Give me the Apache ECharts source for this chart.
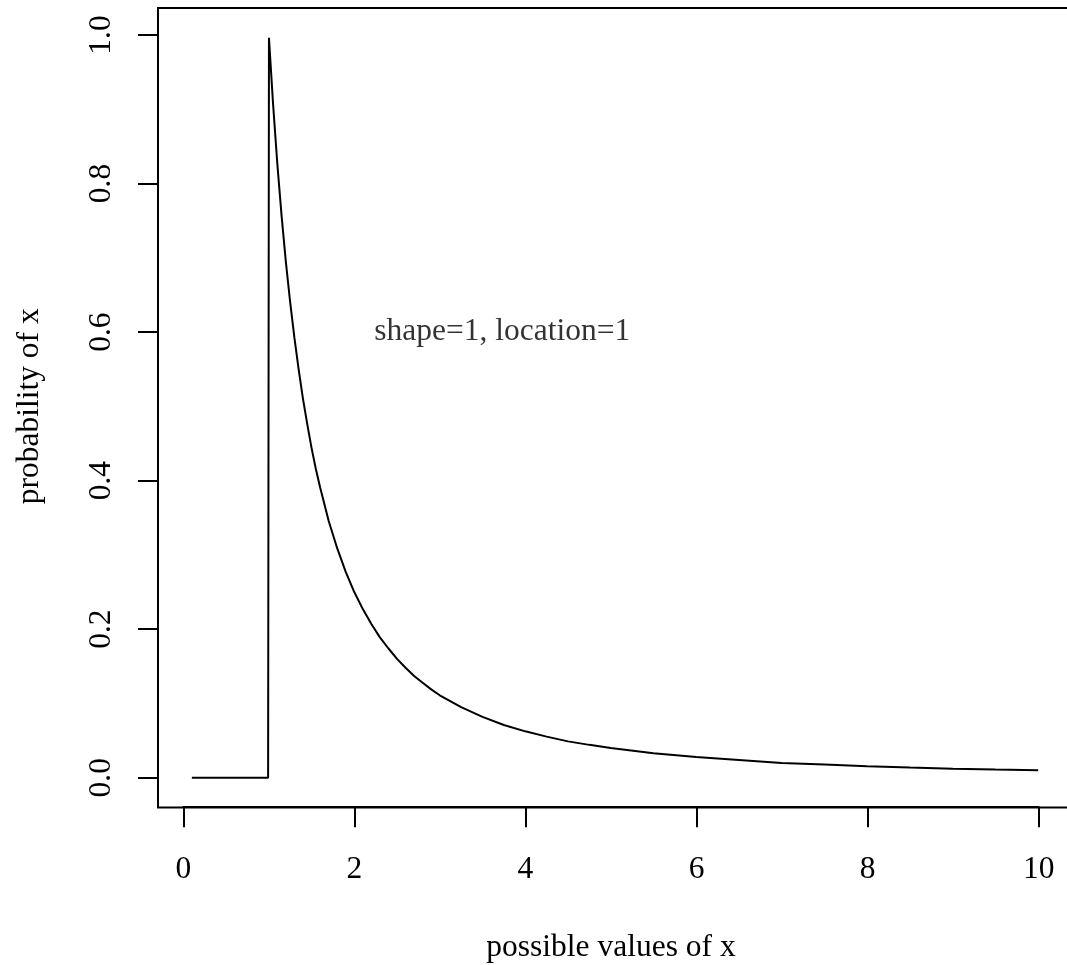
<!DOCTYPE html>
<html>
<head>
<meta charset="utf-8">
<script src="https://cdn.jsdelivr.net/npm/echarts@6/dist/echarts.min.js"></script>
<style>
  html, body { margin: 0; padding: 0; background: #fff; }
  #chart { width: 1067px; height: 965px; }
</style>
</head>
<body>
<div id="chart"></div>
<script>
// 曲线上读出的点 (x, 概率)
var xValues = [0.1, 0.992, 1.002, 1.05, 1.1, 1.15, 1.2, 1.25, 1.3, 1.35, 1.4, 1.45, 1.5, 1.55, 1.6, 1.7, 1.8, 1.9, 2.0,
  2.1, 2.2, 2.3, 2.4, 2.5, 2.6, 2.7, 2.8, 2.9, 3.0, 3.25, 3.5, 3.75, 4.0, 4.25, 4.5, 4.75, 5.0, 5.5, 6.0, 6.5, 7.0, 7.5, 8.0, 8.5, 9.0, 9.5, 10.0];
var yValues = [0, 0, 0.996, 0.907, 0.826, 0.756, 0.694, 0.640, 0.592, 0.549, 0.510, 0.476, 0.444, 0.416, 0.391, 0.346, 0.309, 0.277, 0.250,
  0.227, 0.207, 0.189, 0.174, 0.160, 0.148, 0.137, 0.128, 0.119, 0.111, 0.095, 0.082, 0.071, 0.0625, 0.0554, 0.049, 0.0443, 0.040, 0.033, 0.028, 0.024, 0.020, 0.018, 0.0156, 0.0138, 0.0123, 0.0111, 0.010];
var note = { x: 3.73, y: 0.6, text: 'shape=1, location=1' };
var xTitle = 'possible values of x';
var yTitle = 'probability of x';

var font = 'Liberation Serif';
var fs = 31.5;

var points = xValues.map(function (x, i) { return [x, yValues[i]]; });

var myChart = echarts.init(document.getElementById('chart'));
myChart.setOption({
  animation: false,
  backgroundColor: '#ffffff',
  grid: [
    // 画框
    { left: 158, top: 8, width: 914, height: 799.5, show: true, borderColor: '#000', borderWidth: 2,
      backgroundColor: 'transparent', containLabel: false, outerBoundsMode: 'none' },
    // 坐标轴 (0~10, 0~1)
    { left: 183.3, top: 35, width: 855.4, height: 742.7, containLabel: false, outerBoundsMode: 'none' }
  ],
  xAxis: [
    { gridIndex: 0, type: 'value', min: -0.296, max: 10.396, show: false },
    {
      gridIndex: 1, type: 'value', min: 0, max: 10, interval: 2, position: 'bottom', offset: 29.5,
      name: xTitle, nameLocation: 'middle', nameGap: 125,
      nameTextStyle: { color: '#000', fontFamily: font, fontSize: fs },
      axisLine: { show: true, onZero: false, lineStyle: { color: '#000', width: 2 } },
      axisTick: { show: true, length: 20, lineStyle: { color: '#000', width: 2 } },
      axisLabel: { color: '#000', fontFamily: font, fontSize: fs, margin: 47 },
      splitLine: { show: false }
    }
  ],
  yAxis: [
    { gridIndex: 0, type: 'value', min: -0.04, max: 1.036, show: false },
    {
      gridIndex: 1, type: 'value', min: 0, max: 1, interval: 0.2, position: 'left', offset: 25.3,
      name: yTitle, nameLocation: 'middle', nameGap: 112, nameRotate: 90,
      nameTextStyle: { color: '#000', fontFamily: font, fontSize: fs },
      axisLine: { show: true, onZero: false, lineStyle: { color: '#000', width: 2 } },
      axisTick: { show: true, length: 20, lineStyle: { color: '#000', width: 2 } },
      axisLabel: { color: '#000', fontFamily: font, fontSize: fs, margin: 40, rotate: 90,
        formatter: function (v) { return v.toFixed(1); } },
      splitLine: { show: false }
    }
  ],
  series: [
    {
      type: 'line',
      xAxisIndex: 0, yAxisIndex: 0,
      data: points,
      showSymbol: false,
      lineStyle: { color: '#000', width: 2 }
    },
    {
      type: 'scatter',
      xAxisIndex: 0, yAxisIndex: 0,
      data: [[note.x, note.y]],
      symbolSize: 0,
      label: { show: true, position: 'inside', formatter: note.text, color: '#000', textBorderWidth: 0, fontFamily: font, fontSize: fs }
    }
  ]
});
</script>
</body>
</html>
